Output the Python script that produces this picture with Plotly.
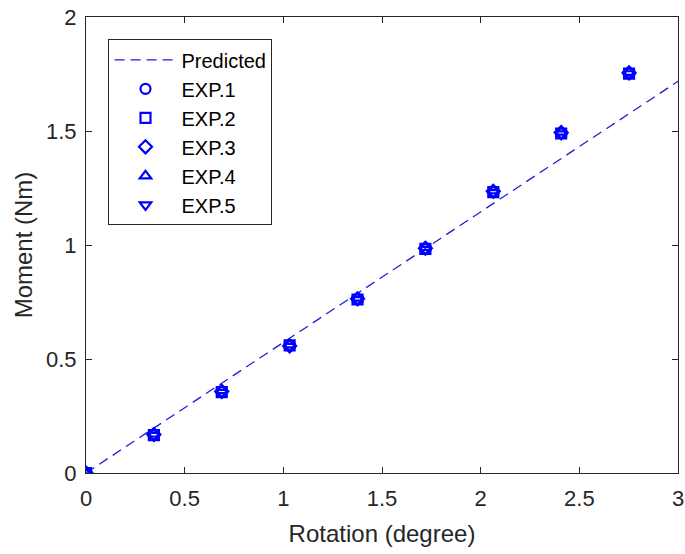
import plotly.graph_objects as go

# Data
rotation = [0, 0.344, 0.688, 1.032, 1.376, 1.720, 2.064, 2.408, 2.752]
exp1 = [0.000, 0.168, 0.357, 0.558, 0.763, 0.985, 1.234, 1.491, 1.754]
exp2 = [0.000, 0.166, 0.355, 0.560, 0.761, 0.983, 1.232, 1.489, 1.752]
exp3 = [0.000, 0.169, 0.358, 0.557, 0.764, 0.986, 1.236, 1.493, 1.755]
exp4 = [0.000, 0.171, 0.361, 0.562, 0.767, 0.989, 1.238, 1.495, 1.757]
exp5 = [0.000, 0.165, 0.353, 0.555, 0.760, 0.981, 1.230, 1.487, 1.751]
pred_x = [0, 3]
pred_y = [0, 1.718]

series = [("EXP.1", exp1, "circle-open"),
          ("EXP.2", exp2, "square-open"),
          ("EXP.3", exp3, "diamond-open"),
          ("EXP.4", exp4, "triangle-up-open"),
          ("EXP.5", exp5, "triangle-down-open")]

AX = "#262626"
FONT = "Liberation Sans, Arial, sans-serif"

fig = go.Figure()
fig.add_trace(go.Scatter(x=pred_x, y=pred_y, mode="lines", name="Predicted",
                         line=dict(color="#1f1fd6", width=1.3, dash="10px,6px")))
for name, ys, sym in series:
    fig.add_trace(go.Scatter(x=rotation, y=ys, mode="markers", name=name,
                             marker=dict(symbol=sym, size=10, color="#0000ff",
                                         line=dict(width=2.2, color="#0000ff"))))

axis_common = dict(showline=True, linecolor=AX, linewidth=1, mirror="ticks",
                   ticks="inside", ticklen=6, tickwidth=1, tickcolor=AX,
                   showgrid=False, zeroline=False, automargin=False,
                   tickfont=dict(family=FONT, size=22, color=AX))

fig.update_layout(
    width=685, height=554,
    paper_bgcolor="white", plot_bgcolor="white",
    margin=dict(l=86, r=7, t=17, b=81),
    font=dict(family=FONT, color=AX),
    xaxis=dict(range=[0, 3], tickvals=[0, 0.5, 1, 1.5, 2, 2.5, 3],
               ticktext=["0", "0.5", "1", "1.5", "2", "2.5", "3"],
               ticklabelstandoff=6,
               title=dict(text="Rotation (degree)", font=dict(family=FONT, size=24, color=AX), standoff=14),
               **axis_common),
    yaxis=dict(range=[0, 2], tickvals=[0, 0.5, 1, 1.5, 2],
               ticktext=["0", "0.5", "1", "1.5", "2"],
               ticklabelstandoff=4,
               title=dict(text="Moment (Nm)", font=dict(family=FONT, size=24, color=AX), standoff=6),
               **axis_common),
    legend=dict(x=0.038, y=0.951, xanchor="left", yanchor="top",
                bgcolor="white", bordercolor=AX, borderwidth=1,
                font=dict(family=FONT, size=20, color="#000000"),
                tracegroupgap=0, itemwidth=62),
    showlegend=True,
)

fig.write_html("out.html", config={"displayModeBar": False},
               post_script="document.body.style.margin='0';document.body.style.padding='0';document.body.style.overflow='hidden';")
